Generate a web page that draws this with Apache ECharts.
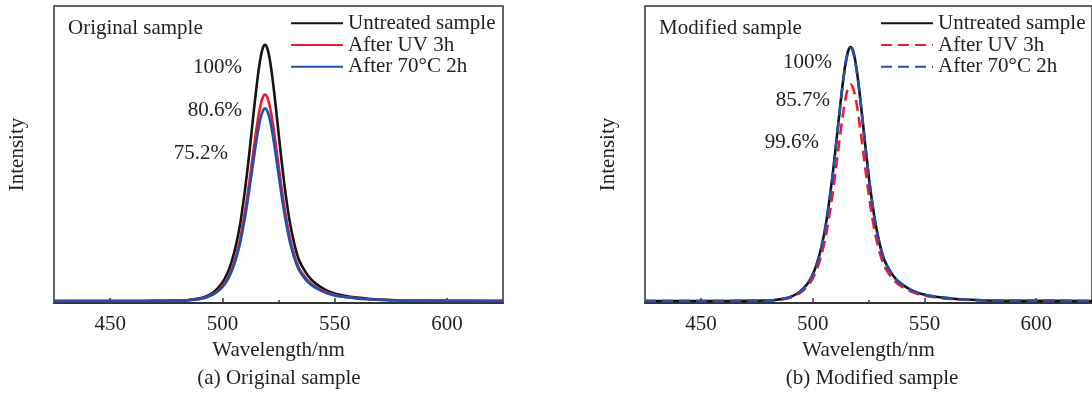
<!DOCTYPE html>
<html>
<head>
<meta charset="utf-8">
<script src="https://cdn.jsdelivr.net/npm/echarts@6/dist/echarts.min.js"></script>
<style>
html,body{margin:0;padding:0;background:#fff;}
#chart{width:1092px;height:395px;}
</style>
</head>
<body>
<div id="chart"></div>
<script>
// ---------- data ----------
const xTicks = [450, 500, 550, 600];
const xMinorTicks = [475, 525, 575];

const wavelengthsA = [425, 440, 455, 465, 475, 480, 485, 490, 493, 496, 498, 500, 502, 504, 506, 508, 510, 511, 512, 513, 514, 515, 516, 517, 518, 519, 520, 521, 522, 523, 524, 525, 526, 527, 528, 530, 532, 534, 536, 538, 540, 543, 546, 550, 555, 560, 565, 570, 580, 590, 600, 625];
const untreatedA = [0.8, 0.8, 0.8, 0.8, 0.85, 0.95, 1.2, 1.8, 2.7, 4.2, 5.8, 8.0, 11.1, 15.8, 22.3, 31.3, 43.7, 50.8, 58.5, 66.7, 74.9, 82.8, 90.0, 95.7, 99.5, 100.8, 99.5, 95.7, 90.0, 82.8, 74.9, 66.7, 58.5, 50.8, 43.7, 31.8, 23.3, 17.1, 13.6, 10.8, 8.8, 6.7, 5.1, 3.7, 2.7, 2.1, 1.65, 1.35, 1.0, 0.88, 0.83, 0.8];
const uvA = [0.8, 0.8, 0.8, 0.8, 0.84, 0.92, 1.12, 1.61, 2.33, 3.54, 4.83, 6.6, 9.1, 12.9, 18.1, 25.4, 35.4, 41.1, 47.3, 53.9, 60.5, 66.9, 72.7, 77.3, 80.4, 81.4, 80.4, 77.3, 72.7, 66.9, 60.5, 53.9, 47.3, 41.1, 35.4, 25.8, 18.9, 13.9, 11.1, 8.86, 7.25, 5.56, 4.27, 3.14, 2.33, 1.85, 1.49, 1.24, 0.96, 0.86, 0.82, 0.8];
const heatA = [0.8, 0.8, 0.8, 0.8, 0.84, 0.91, 1.1, 1.55, 2.23, 3.36, 4.56, 6.2, 8.55, 12.1, 17.0, 23.7, 33.1, 38.4, 44.2, 50.4, 56.5, 62.5, 67.9, 72.2, 75.0, 76.0, 75.0, 72.2, 67.9, 62.5, 56.5, 50.4, 44.2, 38.4, 33.1, 24.1, 17.7, 13.1, 10.4, 8.3, 6.8, 5.24, 4.03, 2.98, 2.23, 1.78, 1.44, 1.21, 0.95, 0.86, 0.82, 0.8];

const wavelengthsB = [425, 438, 453, 463, 473, 478, 483, 488, 491, 494, 496, 498, 500, 502, 504, 506, 508, 509, 510, 511, 512, 513, 514, 515, 516, 517, 518, 519, 520, 521, 522, 523, 524, 525, 526, 528, 530, 532, 534, 536, 538, 541, 544, 548, 553, 558, 563, 568, 578, 588, 598, 625];
const untreatedB = [0.8, 0.8, 0.8, 0.8, 0.85, 0.95, 1.2, 1.8, 2.7, 4.2, 5.8, 7.9, 11.0, 15.7, 22.1, 31.1, 43.4, 50.4, 58.1, 66.2, 74.3, 82.2, 89.3, 95.0, 98.7, 100.0, 98.7, 95.0, 89.3, 82.2, 74.3, 66.2, 58.1, 50.4, 43.4, 31.6, 23.1, 17.0, 13.5, 10.7, 8.7, 6.7, 5.1, 3.7, 2.7, 2.1, 1.65, 1.35, 1.0, 0.88, 0.83, 0.8];
const uvB = [0.8, 0.8, 0.8, 0.8, 0.84, 0.93, 1.14, 1.65, 2.41, 3.67, 5.03, 6.88, 9.5, 13.5, 19.0, 26.6, 37.05, 43.05, 49.6, 56.5, 63.4, 70.1, 76.2, 81.0, 84.2, 85.3, 84.2, 81.0, 76.2, 70.1, 63.4, 56.5, 49.6, 43.05, 37.05, 27.0, 19.8, 14.6, 11.6, 9.25, 7.56, 5.79, 4.43, 3.25, 2.41, 1.9, 1.52, 1.26, 0.97, 0.87, 0.83, 0.8];
const heatB = [0.8, 0.8, 0.8, 0.8, 0.85, 0.95, 1.2, 1.8, 2.7, 4.2, 5.8, 7.9, 11.0, 15.7, 22.0, 31.0, 43.2, 50.2, 57.9, 65.9, 74.0, 81.9, 89.0, 94.6, 98.3, 99.6, 98.3, 94.6, 89.0, 81.9, 74.0, 65.9, 57.9, 50.2, 43.2, 31.5, 23.0, 16.9, 13.4, 10.6, 8.7, 6.7, 5.1, 3.7, 2.7, 2.1, 1.65, 1.35, 1.0, 0.88, 0.83, 0.8];

const seriesNames = ['Untreated sample', 'After UV 3h', 'After 70\u00B0C 2h'];
const panelTitles = ['Original sample', 'Modified sample'];
const captions = ['(a) Original sample', '(b) Modified sample'];
const peakLabelsA = ['100%', '80.6%', '75.2%'];
const peakLabelsB = ['100%', '85.7%', '99.6%'];

// ---------- chart ----------
const FONT = 'Liberation Serif';
const FS = 21;
const TXT = '#231f20';
const C_BLACK = '#141414';
const C_RED = '#ee1c2e';
const C_BLUE = '#2050b4';

function zip(xs, ys) { return xs.map((x, i) => [x, ys[i]]); }

const grids = [
  { left: 54, top: 6, width: 449, height: 297 },
  { left: 645, top: 6, width: 449, height: 297 }
];

function mainX(gi) {
  return {
    type: 'value', gridIndex: gi, min: 425, max: 625,
    name: 'Wavelength/nm', nameLocation: 'middle', nameGap: 34,
    nameTextStyle: { fontFamily: FONT, fontSize: FS, color: TXT },
    axisLine: { show: true, lineStyle: { color: '#333', width: 2 } },
    axisTick: { show: true, inside: true, length: 5, customValues: xTicks, lineStyle: { color: '#333', width: 1.5 } },
    axisLabel: { show: true, customValues: xTicks, margin: 11, fontFamily: FONT, fontSize: FS, color: TXT },
    splitLine: { show: false }
  };
}
function minorX(gi) {
  return {
    type: 'value', gridIndex: gi, min: 425, max: 625, position: 'bottom',
    axisLine: { show: false },
    axisTick: { show: true, inside: true, length: 3, customValues: xMinorTicks, lineStyle: { color: '#333', width: 1.5 } },
    axisLabel: { show: false },
    splitLine: { show: false }
  };
}
function yAx(gi) {
  return {
    type: 'value', gridIndex: gi, min: 0, max: 116,
    name: 'Intensity', nameLocation: 'middle', nameGap: 26, nameRotate: 90,
    nameTextStyle: { fontFamily: FONT, fontSize: FS, color: TXT },
    axisLine: { show: false }, axisTick: { show: false }, axisLabel: { show: false }, splitLine: { show: false }
  };
}

function lineSeries(name, gi, xs, ys, color, dashed) {
  return {
    type: 'line', name: name, xAxisIndex: gi * 2, yAxisIndex: gi,
    data: zip(xs, ys), symbol: 'none', smooth: 0.3, animation: false,
    lineStyle: { color: color, width: 2.6, type: dashed ? [11, 6] : 'solid' },
    itemStyle: { color: color }
  };
}

const ZW = '\u200b'; // keeps panel-(b) legend entries distinct
const series = [
  lineSeries(seriesNames[0], 0, wavelengthsA, untreatedA, C_BLACK, false),
  lineSeries(seriesNames[1], 0, wavelengthsA, uvA, C_RED, false),
  lineSeries(seriesNames[2], 0, wavelengthsA, heatA, C_BLUE, false),
  lineSeries(seriesNames[0] + ZW, 1, wavelengthsB, untreatedB, C_BLACK, false),
  lineSeries(seriesNames[1] + ZW, 1, wavelengthsB, uvB, C_RED, true),
  lineSeries(seriesNames[2] + ZW, 1, wavelengthsB, heatB, C_BLUE, true)
];

function legend(left, names) {
  return {
    orient: 'vertical', left: left, top: 12.5, padding: 0, itemGap: 0,
    itemWidth: 52, itemHeight: 14,
    itemStyle: { opacity: 0 },
    textStyle: { fontFamily: FONT, fontSize: FS, color: TXT, lineHeight: 21.7 },
    data: names
  };
}

function txt(text, x, y, align) {
  return {
    type: 'text', silent: true,
    x: x, y: y,
    style: { text: text, x: 0, y: 0, font: FS + 'px "' + FONT + '"', fill: TXT,
             align: align, verticalAlign: 'middle', textAlign: align, textVerticalAlign: 'middle' }
  };
}

const graphics = [
  txt(panelTitles[0], 68, 28, 'left'),
  txt(peakLabelsA[0], 242, 67, 'right'),
  txt(peakLabelsA[1], 242, 110, 'right'),
  txt(peakLabelsA[2], 228, 153, 'right'),
  txt(captions[0], 279, 378, 'center'),
  txt(panelTitles[1], 659, 28, 'left'),
  txt(peakLabelsB[0], 832, 62, 'right'),
  txt(peakLabelsB[1], 830, 100, 'right'),
  txt(peakLabelsB[2], 819, 142, 'right'),
  txt(captions[1], 872, 378, 'center')
];

const chart = echarts.init(document.getElementById('chart'), null, { renderer: 'canvas' });
chart.setOption({
  animation: false,
  backgroundColor: '#fff',
  grid: grids.map(g => Object.assign({ show: true, borderColor: '#333', borderWidth: 1.5, backgroundColor: 'transparent', containLabel: false }, g)),
  xAxis: [mainX(0), minorX(0), mainX(1), minorX(1)],
  yAxis: [yAx(0), yAx(1)],
  legend: [
    legend(290, seriesNames.slice()),
    legend(880, seriesNames.map(n => n + ZW))
  ],
  series: series,
  graphic: graphics
});
</script>
</body>
</html>
